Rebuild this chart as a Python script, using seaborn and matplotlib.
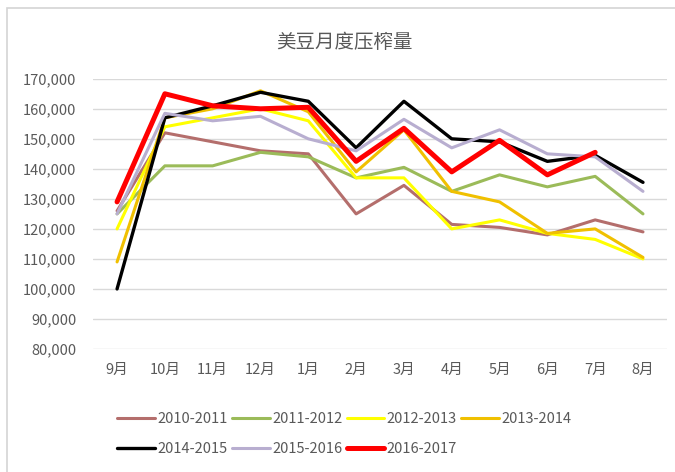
import numpy as np
import pandas as pd
import matplotlib
matplotlib.use("Agg")
import matplotlib.pyplot as plt
from matplotlib.patches import Rectangle
import seaborn as sns

# data
months = ["9月", "10月", "11月", "12月", "1月", "2月", "3月", "4月", "5月", "6月", "7月", "8月"]

s2010_2011 = [126000, 152000, 149000, 146000, 145000, 125000, 134500, 121500, 120500, 118000, 123000, 119000]
s2011_2012 = [125000, 141000, 141000, 145500, 144000, 137000, 140500, 132500, 138000, 134000, 137500, 125000]
s2012_2013 = [120000, 154000, 157000, 160000, 156000, 137000, 137000, 120000, 123000, 118500, 116500, 110000]
s2013_2014 = [109000, 157000, 160000, 166000, 159000, 139000, 153000, 132500, 129000, 118500, 120000, 110500]
s2014_2015 = [100000, 157000, 161000, 165500, 162500, 147000, 162500, 150000, 149000, 142500, 144500, 135500]
s2015_2016 = [125000, 158500, 156000, 157500, 150000, 146000, 156500, 147000, 153000, 145000, 144000, 132500]
s2016_2017 = [129000, 165000, 161000, 160000, 160500, 142500, 153500, 139000, 149500, 138000, 145500, np.nan]

seasons = ["2010-2011", "2011-2012", "2012-2013", "2013-2014",
           "2014-2015", "2015-2016", "2016-2017"]
values = [s2010_2011, s2011_2012, s2012_2013, s2013_2014, s2014_2015, s2015_2016, s2016_2017]
colors = ["#b46e6c", "#9bbb59", "#ffff00", "#f0c000", "#000000", "#b8aed0", "#ff0000"]
widths = [2.2, 2.2, 2.2, 2.2, 2.4, 2.2, 3.6]

df = pd.DataFrame({"month": months * len(seasons),
                   "season": np.repeat(seasons, len(months)),
                   "value": np.concatenate(values)})
df["x"] = np.tile(np.arange(len(months)), len(seasons))

sns.set_style("white")
plt.rcParams["font.family"] = ["Noto Sans CJK SC", "DejaVu Sans"]

fig = plt.figure(figsize=(6.75, 4.72), dpi=100)
ax = fig.add_axes([0.138, 0.2606, 0.850, 0.5725])

# chart frame
fig.patches.append(Rectangle((7 / 675, -0.1), 1.2, 1.1 - 8 / 472, transform=fig.transFigure,
                             fill=False, edgecolor="#d4d4d4", linewidth=1.2))

for name, c, lw in zip(seasons, colors, widths):
    sns.lineplot(data=df[df["season"] == name], x="x", y="value", ax=ax,
                 color=c, linewidth=lw, label=name, sort=False)

ax.set_xlim(-0.5, 11.5)
ax.set_ylim(80000, 170000)
ax.set_yticks(np.arange(80000, 170001, 10000))
ax.set_yticklabels([f"{v:,}" for v in range(80000, 170001, 10000)])
ax.set_xticks(range(len(months)))
ax.set_xticklabels(months)
ax.tick_params(axis="both", labelsize=10.5, colors="#595959", length=0)
ax.tick_params(axis="x", pad=10)
ax.tick_params(axis="y", pad=12)
ax.grid(axis="y", color="#d9d9d9", linewidth=1)
ax.set_axisbelow(True)
for sp in ax.spines.values():
    sp.set_visible(False)
ax.set_xlabel("")
ax.set_ylabel("")

fig.text(0.51, 1 - 42 / 472, "美豆月度压榨量", ha="center", va="center",
         fontsize=14, color="#595959")

handles, labels = ax.get_legend_handles_labels()
order = [0, 4, 1, 5, 2, 6, 3]
ax.get_legend().remove()
fig.legend([handles[i] for i in order], [labels[i] for i in order],
           loc="center", bbox_to_anchor=(0.51, 1 - 434 / 472), ncol=4, frameon=False,
           fontsize=10.5, labelcolor="#595959", handlelength=2.6, handletextpad=0.15,
           columnspacing=0.3, labelspacing=1.1)

fig.savefig("out.png", dpi=100)
